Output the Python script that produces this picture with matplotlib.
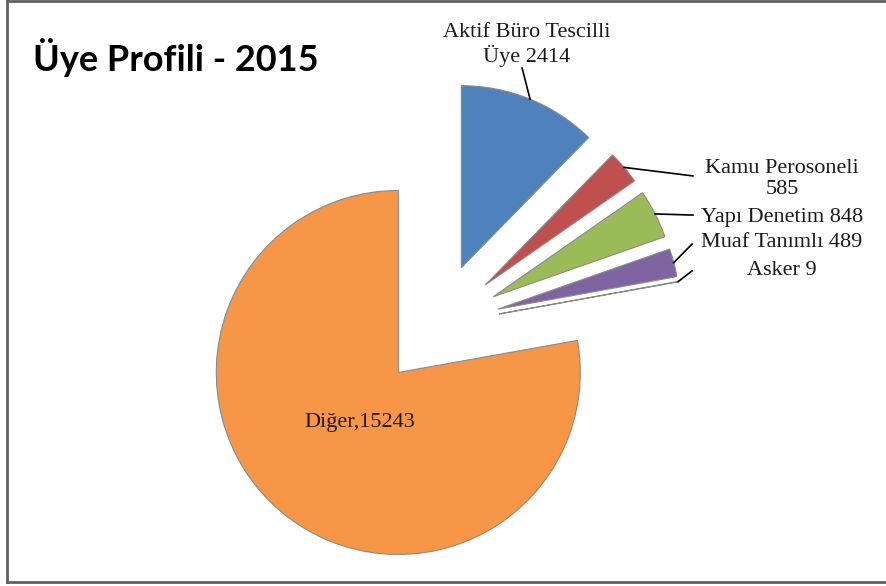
import numpy as np
import matplotlib
matplotlib.use('Agg')
import matplotlib.pyplot as plt

# data
names = ['Aktif Büro Tescilli', 'Kamu Perosoneli', 'Yapı Denetim', 'Muaf Tanımlı', 'Asker', 'Diğer']
values = [2414, 585, 848, 489, 9, 15243]
label_texts = ['Aktif Büro Tescilli\nÜye 2414', 'Kamu Perosoneli\n585', 'Yapı Denetim 848',
               'Muaf Tanımlı 489', 'Asker 9', 'Diğer,15243']
colors = ['#4F81BD', '#C0504D', '#9BBB59', '#8064A2', '#4BACC6', '#F79646']

W, H = 887, 586
fig = plt.figure(figsize=(W/100, H/100), dpi=100)
ax = fig.add_axes([0, 0, 1, 1])

expl = 0.34
wedges, _ = ax.pie(values, colors=colors, startangle=90, counterclock=False,
                   explode=[expl]*len(values), radius=1,
                   wedgeprops=dict(edgecolor='#8a8a8a', linewidth=0.8))

# pie centre at pixel (438, 325), radius 182 px
cx, cy, rpx = 438, 325, 182
ax.set_aspect('auto')
ax.set_xlim(-cx/rpx, (W-cx)/rpx)
ax.set_ylim(-(H-cy)/rpx, cy/rpx)
ax.axis('off')

# label placement (data units) and leader ends
label_pos = [(0.489, 1.540), (1.890, 0.800), (1.890, 0.593), (1.890, 0.451), (1.890, 0.302), (-0.429, -0.533)]
leader_end = [(0.462, 1.412), (1.401, 0.819), (1.401, 0.604), (1.396, 0.445), (1.396, 0.297), None]

for w, txt, pos, end in zip(wedges, label_texts, label_pos, leader_end):
    ang = np.deg2rad((w.theta1 + w.theta2) / 2)
    if end is not None:
        sx = (1 + expl) * np.cos(ang)
        sy = (1 + expl) * np.sin(ang)
        ax.plot([sx, end[0]], [sy, end[1]], color='black', lw=1.2)
    ax.text(pos[0], pos[1], txt, ha='center', va='center', fontsize=16,
            family='Liberation Serif', color='#1a1a1a', linespacing=1.15)

fig.text(33/W, 1 - 71/H, 'Üye Profili - 2015', fontsize=26, fontweight='bold',
         family='Lato', color='black', va='baseline', ha='left')

# chart frame
for xs, ys in [([7, 7], [0, 582]), ([7, W], [1, 1]), ([7, W], [582, 582])]:
    fig.add_artist(plt.Line2D([x/W for x in xs], [1 - y/H for y in ys], color='#606060', lw=2))

fig.savefig('out.png', dpi=100)
